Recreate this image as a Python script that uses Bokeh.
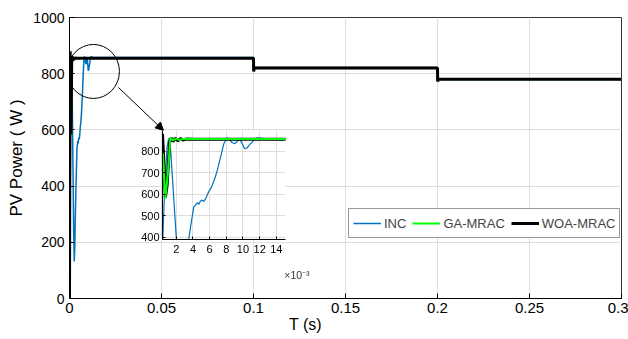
from bokeh.plotting import figure
from bokeh.models import (Range1d, FixedTicker, CustomJSTickFormatter, Legend,
                          LegendItem, Arrow, NormalHead)
from bokeh.embed import file_html
from bokeh.resources import INLINE

# ---------------- data ----------------
inc_t = [0, 0.0003, 0.0006, 0.0009, 0.0011, 0.0013, 0.0016, 0.002, 0.0023, 0.0026, 0.0029,
         0.0032, 0.0035, 0.0038, 0.0041, 0.0043, 0.0045, 0.0047, 0.0049, 0.0051, 0.0053,
         0.0056, 0.0059, 0.0062, 0.0066, 0.0069, 0.0073, 0.0077, 0.0081, 0.0084, 0.0087,
         0.009, 0.0093, 0.0096, 0.0099, 0.0102, 0.0105, 0.0108, 0.0111, 0.0114, 0.0117,
         0.0125, 0.1, 0.1001, 0.1005, 0.2, 0.2001, 0.2005, 0.3]
inc_p = [40, 300, 620, 820, 860, 820, 640, 400, 220, 132, 190,
         300, 390, 470, 540, 548, 560, 552, 568, 572, 566,
         585, 612, 630, 670, 708, 770, 834, 862, 852, 840,
         834, 845, 858, 835, 811, 815, 830, 842, 855, 862,
         858, 858, 815, 822, 822, 776, 782, 782]

ga_t = [0, 0.0002, 0.0004, 0.0007, 0.001, 0.0013, 0.0016, 0.002, 0.0024, 0.0028, 0.0035,
        0.1, 0.1001, 0.1004, 0.2, 0.2001, 0.2004, 0.3]
ga_p = [0, 500, 790, 580, 700, 862, 850, 858, 852, 857, 856,
        856, 812, 820, 820, 774, 780, 780]

woa_t = [0, 0.0002, 0.00035, 0.0005, 0.0007, 0.0009, 0.0012, 0.0014, 0.0016, 0.0019,
         0.0022, 0.0025, 0.0028, 0.0032, 0.004, 0.1, 0.1001, 0.1004, 0.2, 0.2001, 0.2004, 0.3]
woa_p = [0, 600, 880, 760, 585, 640, 840, 862, 845, 860,
         848, 858, 852, 856, 855, 855, 808, 820, 820, 772, 780, 780]

x_ticks = [0, 0.05, 0.1, 0.15, 0.2, 0.25, 0.3]
y_ticks = [0, 200, 400, 600, 800, 1000]
inset_x_ticks = [0.002, 0.004, 0.006, 0.008, 0.010, 0.012, 0.014]
inset_y_ticks = [400, 500, 600, 700, 800]
labels = ["INC", "GA-MRAC", "WOA-MRAC"]
colors = ["#0072BD", "#00FF00", "#000000"]
x_title = "T (s)"
y_title = "PV Power ( W )"
inset_exp = "\u00d710\u207b\u00b3"

# annotation anchors (zoom circle and arrow)
zoom_center = (0.013, 808)
arrow_from = (0.0266, 751)
arrow_to = (0.0511, 598)

FONT = "Liberation Sans"
NBSP = "\u00a0"

# ---------------- main figure ----------------
p = figure(width=628, height=339, output_backend="svg", toolbar_location=None,
           x_range=Range1d(0, 0.3), y_range=Range1d(0, 1000),
           min_border_left=69, min_border_right=7, min_border_top=17, min_border_bottom=41)
p.background_fill_color = "white"
p.border_fill_color = "white"
p.outline_line_color = "#333333"
p.outline_line_width = 1

p.xaxis.ticker = FixedTicker(ticks=x_ticks)
p.xaxis.formatter = CustomJSTickFormatter(code="return String(+tick.toFixed(4))")
p.yaxis.ticker = FixedTicker(ticks=y_ticks)
for ax in (p.xaxis[0], p.yaxis[0]):
    ax.major_tick_in = 5
    ax.major_tick_out = 0
    ax.minor_tick_line_color = None
    ax.axis_line_color = "black"
    ax.major_tick_line_color = "black"
    ax.major_label_text_font = FONT
    ax.major_label_text_font_size = "14px"
    ax.major_label_text_color = "black"
    ax.major_label_standoff = 5
    ax.axis_label_text_font = FONT
    ax.axis_label_text_font_style = "normal"
    ax.axis_label_text_color = "black"
p.xaxis.major_label_text_font_size = "15px"
p.xaxis.major_label_standoff = 4
p.xaxis.axis_label = x_title + NBSP * 18
p.xaxis.axis_label_text_font_size = "16px"
p.xaxis.axis_label_standoff = 0
p.yaxis.axis_label = y_title
p.yaxis.axis_label_text_font_size = "17px"
p.yaxis.axis_label_standoff = 4
p.xgrid.grid_line_color = "#dedede"
p.ygrid.grid_line_color = "#dedede"

r_inc = p.line(inc_t, inc_p, line_color=colors[0], line_width=1.5)
r_ga = p.line(ga_t, ga_p, line_color=colors[1], line_width=2)
r_woa = p.line(woa_t, woa_p, line_color=colors[2], line_width=3)

# zoom circle + arrow
p.ellipse(x=[zoom_center[0]], y=[zoom_center[1]], width=52, height=54,
          width_units="screen", height_units="screen",
          fill_color=None, line_color="black", line_width=1)
p.add_layout(Arrow(x_start=arrow_from[0], y_start=arrow_from[1],
                   x_end=arrow_to[0], y_end=arrow_to[1], line_width=1, line_color="black",
                   end=NormalHead(size=8, fill_color="black", line_color="black")))

legend = Legend(items=[LegendItem(label=labels[0], renderers=[r_inc]),
                       LegendItem(label=labels[1], renderers=[r_ga]),
                       LegendItem(label=labels[2], renderers=[r_woa])],
                orientation="horizontal", location=(279, 60), margin=0,
                padding=4, spacing=6, glyph_width=28, glyph_height=20,
                label_standoff=3, label_text_font=FONT, label_text_font_size="13px",
                label_height=20,
                border_line_color="#333333", border_line_width=1,
                background_fill_color="white", background_fill_alpha=1)
p.add_layout(legend)

# ---------------- inset figure ----------------
ins = figure(width=26 + 123 + 36, height=4 + 109 + 50, output_backend="svg",
             toolbar_location=None,
             x_range=Range1d(0.00035, 0.0151), y_range=Range1d(389, 896),
             min_border_left=26, min_border_right=36, min_border_top=4, min_border_bottom=50)
ins.background_fill_color = "white"
ins.border_fill_color = None
ins.outline_line_color = None
ins.xaxis.ticker = FixedTicker(ticks=inset_x_ticks)
ins.xaxis.formatter = CustomJSTickFormatter(code="return String(Math.round(tick*1000))")
ins.yaxis.ticker = FixedTicker(ticks=inset_y_ticks)
for ax in (ins.xaxis[0], ins.yaxis[0]):
    ax.major_tick_in = 3
    ax.major_tick_out = 0
    ax.minor_tick_line_color = None
    ax.axis_line_color = "black"
    ax.major_tick_line_color = "black"
    ax.major_label_text_font = FONT
    ax.major_label_text_font_size = "11px"
    ax.major_label_text_color = "black"
    ax.major_label_standoff = 3
ins.xaxis.major_label_standoff = 5
ins.xaxis.axis_label = NBSP * 50 + inset_exp
ins.xaxis.axis_label_text_font = FONT
ins.xaxis.axis_label_text_font_style = "normal"
ins.xaxis.axis_label_text_font_size = "10.5px"
ins.xaxis.axis_label_text_color = "#333333"
ins.xaxis.axis_label_standoff = 13
ins.xgrid.grid_line_color = "#dedede"
ins.ygrid.grid_line_color = "#dedede"

ins.line(inc_t, inc_p, line_color=colors[0], line_width=1.2)
ins.line(woa_t, woa_p, line_color=colors[2], line_width=3)
ins.line(ga_t, ga_p, line_color=colors[1], line_width=2)

ins.styles = {"position": "fixed", "left": "136px", "top": "126px", "z-index": "10"}

open("out.html", "w").write(file_html([p, ins], INLINE))
